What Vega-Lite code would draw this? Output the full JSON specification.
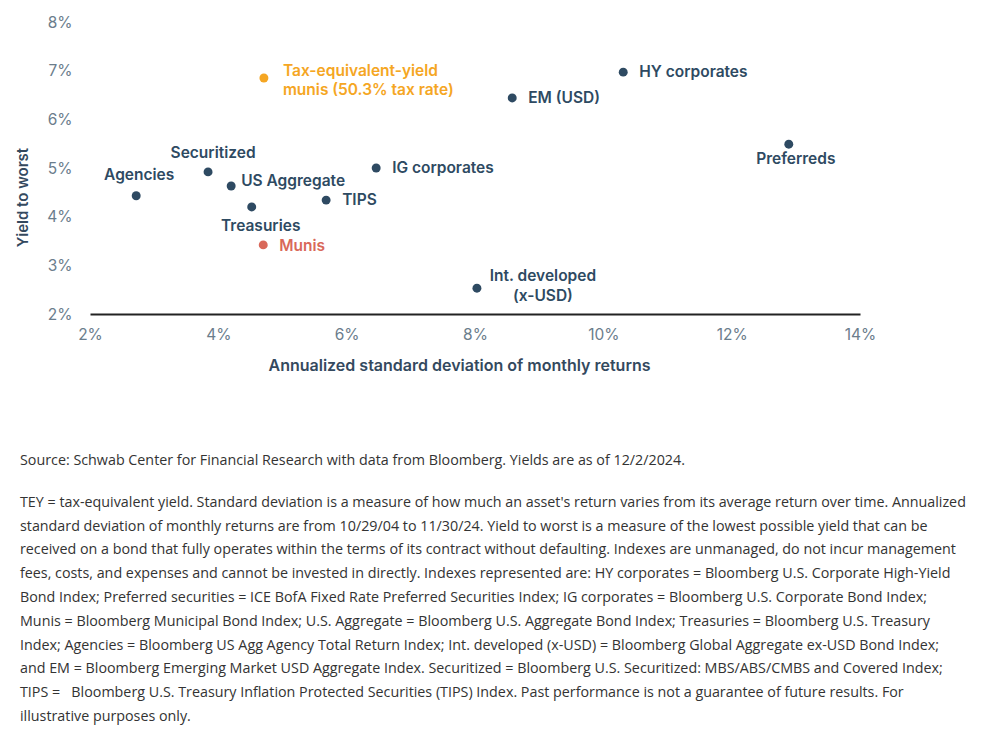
{
  "$schema": "https://vega.github.io/schema/vega-lite/v6.json",
  "width": 770,
  "height": 292,
  "autosize": {"type": "none"},
  "padding": {"left": 90, "top": 22, "right": 136, "bottom": 442},
  "background": "white",
  "config": {"view": {"stroke": null}},
  "title": {
    "text": "Source: Schwab Center for Financial Research with data from Bloomberg. Yields are as of 12/2/2024.",
    "subtitle": [
      "TEY = tax-equivalent yield. Standard deviation is a measure of how much an asset's return varies from its average return over time. Annualized",
      "standard deviation of monthly returns are from 10/29/04 to 11/30/24. Yield to worst is a measure of the lowest possible yield that can be",
      "received on a bond that fully operates within the terms of its contract without defaulting. Indexes are unmanaged, do not incur management",
      "fees, costs, and expenses and cannot be invested in directly. Indexes represented are: HY corporates = Bloomberg U.S. Corporate High-Yield",
      "Bond Index; Preferred securities = ICE BofA Fixed Rate Preferred Securities Index; IG corporates = Bloomberg U.S. Corporate Bond Index;",
      "Munis = Bloomberg Municipal Bond Index; U.S. Aggregate = Bloomberg U.S. Aggregate Bond Index; Treasuries = Bloomberg U.S. Treasury",
      "Index; Agencies = Bloomberg US Agg Agency Total Return Index; Int. developed (x-USD) = Bloomberg Global Aggregate ex-USD Bond Index;",
      "and EM = Bloomberg Emerging Market USD Aggregate Index. Securitized = Bloomberg U.S. Securitized: MBS/ABS/CMBS and Covered Index;",
      "TIPS =\u00a0\u00a0\u00a0Bloomberg U.S. Treasury Inflation Protected Securities (TIPS) Index. Past performance is not a guarantee of future results. For",
      "illustrative purposes only."
    ],
    "orient": "bottom",
    "anchor": "start",
    "frame": "group",
    "dx": -70,
    "offset": 80,
    "font": "Open Sans",
    "fontSize": 14.3,
    "fontWeight": "normal",
    "color": "#333333",
    "subtitleFont": "Open Sans",
    "subtitleFontSize": 14.3,
    "subtitleColor": "#333333",
    "subtitleLineHeight": 23.8,
    "subtitlePadding": 28
  },
  "data": {
    "values": [
      {"name": "Agencies", "label": "Agencies", "group": "Taxable", "sd": 2.72, "ytw": 4.43},
      {"name": "Securitized", "label": "Securitized", "group": "Taxable", "sd": 3.84, "ytw": 4.92},
      {"name": "US Aggregate", "label": "US Aggregate", "group": "Taxable", "sd": 4.2, "ytw": 4.63},
      {"name": "Treasuries", "label": "Treasuries", "group": "Taxable", "sd": 4.52, "ytw": 4.2},
      {"name": "Munis", "label": "Munis", "group": "Munis", "sd": 4.7, "ytw": 3.42},
      {"name": "TEY munis", "label": "Tax-equivalent-yield\nmunis (50.3% tax rate)", "group": "TEY", "sd": 4.71, "ytw": 6.85},
      {"name": "TIPS", "label": "TIPS", "group": "Taxable", "sd": 5.68, "ytw": 4.34},
      {"name": "IG corporates", "label": "IG corporates", "group": "Taxable", "sd": 6.46, "ytw": 5.0},
      {"name": "Int. developed", "label": "Int. developed\n(x-USD)", "group": "Taxable", "sd": 8.03, "ytw": 2.53},
      {"name": "EM (USD)", "label": "EM (USD)", "group": "Taxable", "sd": 8.58, "ytw": 6.44},
      {"name": "HY corporates", "label": "HY corporates", "group": "Taxable", "sd": 10.31, "ytw": 6.97},
      {"name": "Preferreds", "label": "Preferreds", "group": "Taxable", "sd": 12.89, "ytw": 5.49}
    ]
  },
  "encoding": {
    "x": {
      "field": "sd", "type": "quantitative",
      "scale": {"domain": [2, 14], "nice": false, "zero": false},
      "axis": {
        "values": [2, 4, 6, 8, 10, 12, 14],
        "labelExpr": "datum.value + '%'",
        "labelFlush": false,
        "title": "Annualized standard deviation of monthly returns",
        "titleFont": "Inter", "titleFontSize": 16, "titleFontWeight": 600, "titleColor": "#34495e",
        "titlePadding": 15, "titleX": 369,
        "labelFont": "Inter", "labelFontSize": 15.5, "labelColor": "#6b7d8c", "labelPadding": 13,
        "ticks": false, "grid": false,
        "domainColor": "#222222", "domainWidth": 2
      }
    },
    "y": {
      "field": "ytw", "type": "quantitative",
      "scale": {"domain": [2, 8], "nice": false, "zero": false},
      "axis": {
        "values": [2, 3, 4, 5, 6, 7, 8],
        "labelExpr": "datum.value + '%'",
        "title": "Yield to worst",
        "titleFont": "Inter", "titleFontSize": 15, "titleFontWeight": 600, "titleColor": "#34495e",
        "titleY": 175, "titlePadding": 16,
        "labelFont": "Inter", "labelFontSize": 15.5, "labelColor": "#6b7d8c", "labelPadding": 18,
        "ticks": false, "grid": false, "domain": false
      }
    },
    "color": {
      "field": "group", "type": "nominal",
      "scale": {"domain": ["Taxable", "Munis", "TEY"], "range": ["#2e4a62", "#d9685a", "#f5a623"]},
      "legend": null
    }
  },
  "layer": [
    {"mark": {"type": "point", "filled": true, "size": 80, "opacity": 1}},
    {"transform": [{"filter": "datum.name == 'Agencies'"}], "mark": {"type": "text", "font": "Inter", "fontSize": 15.5, "fontWeight": 600, "align": "center", "baseline": "middle", "dx": 3, "dy": -21}, "encoding": {"text": {"field": "label"}}},
    {"transform": [{"filter": "datum.name == 'Securitized'"}], "mark": {"type": "text", "font": "Inter", "fontSize": 15.5, "fontWeight": 600, "align": "center", "baseline": "middle", "dx": 5, "dy": -19}, "encoding": {"text": {"field": "label"}}},
    {"transform": [{"filter": "datum.name == 'US Aggregate'"}], "mark": {"type": "text", "font": "Inter", "fontSize": 15.5, "fontWeight": 600, "align": "left", "baseline": "middle", "dx": 10, "dy": -5}, "encoding": {"text": {"field": "label"}}},
    {"transform": [{"filter": "datum.name == 'Treasuries'"}], "mark": {"type": "text", "font": "Inter", "fontSize": 15.5, "fontWeight": 600, "align": "center", "baseline": "middle", "dx": 9, "dy": 19}, "encoding": {"text": {"field": "label"}}},
    {"transform": [{"filter": "datum.name == 'Munis'"}], "mark": {"type": "text", "font": "Inter", "fontSize": 15.5, "fontWeight": 600, "align": "left", "baseline": "middle", "dx": 16, "dy": 1}, "encoding": {"text": {"field": "label"}}},
    {"transform": [{"filter": "datum.name == 'TEY munis'"}], "mark": {"type": "text", "font": "Inter", "fontSize": 15.5, "fontWeight": 600, "align": "left", "baseline": "middle", "dx": 19, "dy": -7, "lineBreak": "\n", "lineHeight": 19}, "encoding": {"text": {"field": "label"}}},
    {"transform": [{"filter": "datum.name == 'TIPS' || datum.name == 'IG corporates' || datum.name == 'EM (USD)' || datum.name == 'HY corporates'"}], "mark": {"type": "text", "font": "Inter", "fontSize": 15.5, "fontWeight": 600, "align": "left", "baseline": "middle", "dx": 16}, "encoding": {"text": {"field": "label"}}},
    {"transform": [{"filter": "datum.name == 'Int. developed'"}], "mark": {"type": "text", "font": "Inter", "fontSize": 15.5, "fontWeight": 600, "align": "center", "baseline": "middle", "dx": 66, "dy": -12, "lineBreak": "\n", "lineHeight": 20}, "encoding": {"text": {"field": "label"}}},
    {"transform": [{"filter": "datum.name == 'Preferreds'"}], "mark": {"type": "text", "font": "Inter", "fontSize": 15.5, "fontWeight": 600, "align": "center", "baseline": "middle", "dx": 7, "dy": 15}, "encoding": {"text": {"field": "label"}}}
  ]
}
